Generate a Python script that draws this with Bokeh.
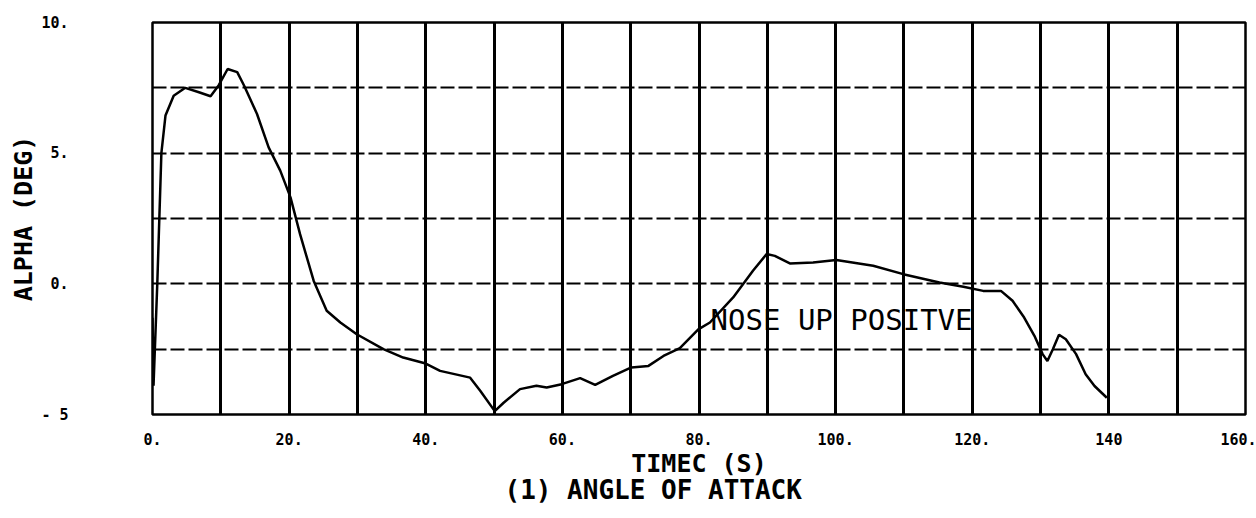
from bokeh.plotting import figure
from bokeh.models import FixedTicker, Title, Range1d
from bokeh.core.properties import value
from bokeh.embed import file_html
from bokeh.resources import INLINE

# ---- data ----
time_s = [0.0, 0.15, 0.7, 1.3, 1.9, 3.1, 4.8, 6.8, 8.5, 9.7, 11.0, 12.4, 13.4, 15.3,
          17.0, 18.7, 20.2, 21.6, 23.6, 25.5, 27.5, 29.9, 33.8, 36.7, 40.0, 42.1,
          46.5, 48.0, 50.1, 51.4, 53.8, 56.2, 57.7, 59.9, 62.6, 64.8, 67.4, 70.1,
          72.6, 74.8, 77.2, 79.9, 81.6, 85.0, 87.9, 89.9, 91.1, 93.3, 96.7, 100.1,
          105.5, 109.9, 115.2, 118.7, 121.6, 124.2, 125.9, 127.6, 129.1, 130.3,
          131.0, 131.8, 132.7, 133.7, 135.2, 136.6, 137.9, 139.7]
alpha_deg = [-1.3, -3.9, 0.0, 5.0, 6.44, 7.2, 7.5, 7.33, 7.18, 7.6, 8.22, 8.1, 7.59,
             6.5, 5.22, 4.33, 3.31, 1.9, 0.11, -1.03, -1.48, -1.93, -2.5, -2.82,
             -3.05, -3.33, -3.59, -4.1, -4.87, -4.55, -4.03, -3.9, -3.97, -3.84,
             -3.61, -3.87, -3.52, -3.2, -3.14, -2.76, -2.46, -1.74, -1.48, -0.52,
             0.5, 1.14, 1.07, 0.78, 0.82, 0.91, 0.69, 0.37, 0.05, -0.11, -0.27,
             -0.27, -0.65, -1.29, -1.99, -2.69, -2.95, -2.5, -1.95, -2.12, -2.69,
             -3.46, -3.91, -4.36]

x_ticks = [0, 20, 40, 60, 80, 100, 120, 140, 160]
x_tick_labels = ["0.", "20.", "40.", "60.", "80.", "100.", "120.", "140", "160."]
x_grid = [0, 10, 20, 30, 40, 50, 60, 70, 80, 90, 100, 110, 120, 130, 140, 150, 160]
y_ticks = [-5, 0, 5, 10]
y_tick_labels = ["- 5", "0.", "5.", "10."]
y_grid = [-5, -2.5, 0, 2.5, 5, 7.5, 10]

note_text = ["NOSE UP POSITVE"]
note_x = [81.7]
note_y = [-1.4]

FONT = "DejaVu Sans Mono"

p = figure(width=1256, height=518, output_backend="svg", toolbar_location=None,
           x_range=Range1d(0, 160), y_range=Range1d(-5, 10),
           min_border_left=152, min_border_right=11, min_border_top=22,
           min_border_bottom=104)

p.background_fill_color = "white"
p.border_fill_color = "white"
p.outline_line_color = "black"
p.outline_line_width = 2.5

# grids
p.xgrid.ticker = FixedTicker(ticks=x_grid)
p.ygrid.ticker = FixedTicker(ticks=y_grid)
p.xgrid.grid_line_color = "black"
p.xgrid.grid_line_width = 3
p.ygrid.grid_line_color = "black"
p.ygrid.grid_line_width = 2
p.ygrid.grid_line_dash = "14 4"

# axes
p.xaxis.ticker = FixedTicker(ticks=x_ticks)
p.xaxis.major_label_overrides = {t: l for t, l in zip(x_ticks, x_tick_labels)}
p.yaxis.ticker = FixedTicker(ticks=y_ticks)
p.yaxis.major_label_overrides = {t: l for t, l in zip(y_ticks, y_tick_labels)}
for ax in (p.xaxis[0], p.yaxis[0]):
    ax.axis_line_color = None
    ax.major_tick_line_color = None
    ax.minor_tick_line_color = None
    ax.major_label_text_font = FONT
    ax.major_label_text_font_style = "bold"
    ax.major_label_text_font_size = "15px"
    ax.major_label_text_color = "black"
    ax.axis_label_text_font = FONT
    ax.axis_label_text_font_style = "bold"
    ax.axis_label_text_font_size = "25px"
    ax.axis_label_text_color = "black"

p.xaxis.major_label_standoff = 12
p.xaxis.axis_label = "TIMEC (S)"
p.xaxis.axis_label_standoff = 1
p.yaxis.major_label_standoff = 78
p.yaxis.axis_label = "ALPHA (DEG)"
p.yaxis.axis_label_standoff = 0

title = Title(text="(1) ANGLE OF ATTACK", align="left", offset=352,
              text_font=FONT, text_font_size="26px", text_font_style="bold",
              text_color="black", standoff=0)
try:
    title.standoff = -15
except Exception:
    title.standoff = 0
p.add_layout(title, "below")

p.line(time_s, alpha_deg, line_color="black", line_width=2.5)

p.text(x=note_x, y=note_y, text=note_text, text_font=value(FONT),
       text_font_size="29px", text_color="black", text_align="left",
       text_baseline="middle")

open("out.html", "w").write(file_html(p, INLINE))
